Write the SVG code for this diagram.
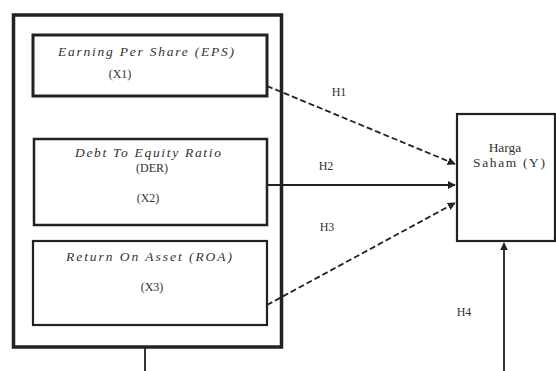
<svg xmlns="http://www.w3.org/2000/svg" width="556" height="371" viewBox="0 0 556 371">
<style>
.box{fill:#fff;stroke:#222;}
.t{font-family:"Liberation Serif","Times New Roman",serif;font-size:12px;fill:#333;text-anchor:middle;}
.b{font-size:13.5px;}
.i{font-style:italic;}
.c{stroke:#222;stroke-width:1.8;fill:none;}
.d{stroke-dasharray:6,3;}
</style>
<defs>
<marker id="ah" viewBox="0 0 10 10" refX="9" refY="5" markerWidth="4.5" markerHeight="4.5" orient="auto" markerUnits="strokeWidth">
<path d="M0,0 L10,5 L0,10 z" fill="#222"/>
</marker>
</defs>
<rect width="556" height="371" fill="#fff"/>
<g id="outer"><rect class="box" x="13.5" y="15" width="268" height="332" stroke-width="3.5"/></g>
<g id="x1">
<rect class="box" x="33" y="35" width="234" height="61" stroke-width="3"/>
<text class="t b i" x="146" y="56" textLength="176" lengthAdjust="spacing">Earning Per Share (EPS)</text>
<text class="t" x="120" y="78">(X1)</text>
</g>
<g id="x2">
<rect class="box" x="34" y="139" width="233" height="86" stroke-width="2.5"/>
<text class="t b i" x="148" y="157" textLength="146" lengthAdjust="spacing">Debt To Equity Ratio</text>
<text class="t" x="152" y="172">(DER)</text>
<text class="t" x="148" y="202">(X2)</text>
</g>
<g id="x3">
<rect class="box" x="33" y="241" width="234" height="84" stroke-width="2.2"/>
<text class="t b i" x="149" y="261" textLength="166" lengthAdjust="spacing">Return On Asset (ROA)</text>
<text class="t" x="152" y="291">(X3)</text>
</g>
<g id="y">
<rect class="box" x="457" y="114" width="98" height="127" stroke-width="2.2"/>
<text class="t b" x="505" y="152">Harga</text>
<text class="t b" x="509" y="167" textLength="72" lengthAdjust="spacing">Saham (Y)</text>
</g>
<g id="connectors">
<line class="c d" x1="267" y1="86" x2="455" y2="164" marker-end="url(#ah)"/>
<line class="c" x1="267" y1="185" x2="455" y2="185" marker-end="url(#ah)"/>
<line class="c d" x1="267" y1="305" x2="455" y2="203" marker-end="url(#ah)"/>
<line class="c" x1="145" y1="347" x2="145" y2="371"/>
<line class="c" x1="504" y1="371" x2="504" y2="243" stroke-width="2.5" marker-end="url(#ah)"/>
</g>
<g id="labels">
<text class="t" x="339" y="96">H1</text>
<text class="t" x="326" y="170">H2</text>
<text class="t" x="327" y="231">H3</text>
<text class="t" x="464" y="316">H4</text>
</g>
</svg>
